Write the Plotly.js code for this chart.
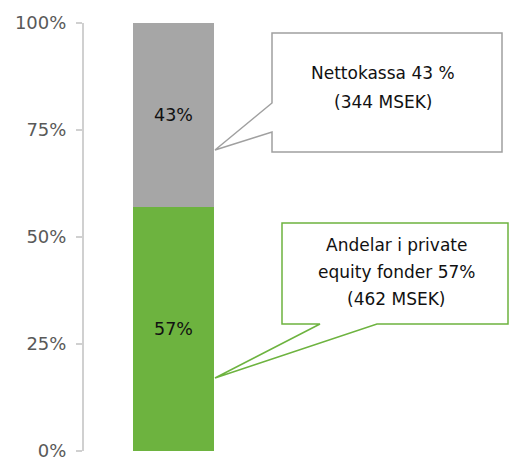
<!DOCTYPE html>
<html><head><meta charset="utf-8">
<script src="https://cdn.plot.ly/plotly-3.0.1.min.js"></script>
<style>html,body{margin:0;padding:0;background:#fff}#chart{width:509px;height:457px}</style>
</head><body><div id="chart"></div>
<script>
// Data
const categories = ["Portfölj"];
const seriesNames = ["Andelar i private equity fonder", "Nettokassa"];
const privateEquity = [0.57];
const netCash = [0.43];
const msek = [462, 344];
const tickVals = [0, 0.25, 0.5, 0.75, 1];
const tickLabels = ["0%", "25%", "50%", "75%", "100%"];
const calloutNetCash = ["Nettokassa 43 %", "(344 MSEK)"];
const calloutPE = ["Andelar i private", "equity fonder 57%", "(462 MSEK)"];

// Layout geometry helpers (pixel -> data)
const W = 509, H = 457, mL = 84, mR = 0, mT = 23, mB = 6;
const pxPerUnit = 81;
const xmin = -0.5 - 49 / pxPerUnit;
const xmax = xmin + (W - mL - mR) / pxPerUnit;
const plotH = H - mT - mB;
const X = px => xmin + (px - mL) / pxPerUnit;
const Y = py => (H - mB - py) / plotH;
const P = pts => 'M ' + pts.map(p => X(p[0]) + ',' + Y(p[1])).join(' L ') + ' Z';

const font = "DejaVu Sans, Verdana, sans-serif";
const green = "#6db33f", grey = "#a6a6a6";

const traces = [
  {type: 'bar', x: [0], y: privateEquity, name: seriesNames[0], width: 1,
   marker: {color: green}, text: privateEquity.map(v => Math.round(v*100) + '%'),
   textposition: 'inside', insidetextanchor: 'middle',
   textfont: {family: font, size: 17.5, color: '#111'}, hoverinfo: 'none'},
  {type: 'bar', x: [0], y: netCash, name: seriesNames[1], width: 1,
   marker: {color: grey}, text: netCash.map(v => Math.round(v*100) + '%'),
   textposition: 'inside', insidetextanchor: 'middle',
   textfont: {family: font, size: 17.5, color: '#111'}, hoverinfo: 'none'}
];

const annotations = [];
const gLines = [73, 102];
calloutNetCash.forEach((t, i) => annotations.push({xref: 'x', yref: 'y', x: X(383), y: Y(gLines[i]),
  text: t, showarrow: false, xanchor: 'center', yanchor: 'middle', font: {family: font, size: 17, color: '#111'}}));
const pLines = [245, 272, 299];
calloutPE.forEach((t, i) => annotations.push({xref: 'x', yref: 'y', x: X(396), y: Y(pLines[i]),
  text: t, showarrow: false, xanchor: 'center', yanchor: 'middle', font: {family: font, size: 17, color: '#111'}}));

const shapes = [
  {type: 'path', xref: 'x', yref: 'y', layer: 'above',
   path: P([[272,33],[502,33],[502,152],[272,152],[272,132],[215,150],[272,103]]),
   line: {color: '#a0a0a0', width: 1.5}, fillcolor: '#ffffff'},
  {type: 'path', xref: 'x', yref: 'y', layer: 'above',
   path: P([[282,223],[508,223],[508,324],[377,324],[215,378],[320,324],[282,324]]),
   line: {color: green, width: 1.5}, fillcolor: '#ffffff'}
];

const layout = {
  width: W, height: H, margin: {l: mL, r: mR, t: mT, b: mB},
  paper_bgcolor: '#fff', plot_bgcolor: '#fff', barmode: 'stack', showlegend: false,
  xaxis: {range: [xmin, xmax], visible: false, fixedrange: true},
  yaxis: {range: [0, 1], tickvals: tickVals, ticktext: tickLabels, showgrid: false, zeroline: false,
    showline: true, linecolor: '#d0d0d0', linewidth: 2, ticks: 'outside', ticklen: 6, tickwidth: 1.5,
    tickcolor: '#d0d0d0', tickfont: {family: font, size: 18, color: '#595959'}, ticklabelstandoff: 6,
    ticklabeloverflow: 'allow'},
  annotations: annotations, shapes: shapes, font: {family: font}
};
Plotly.newPlot('chart', traces, layout, {staticPlot: true, displayModeBar: false});
</script></body></html>
